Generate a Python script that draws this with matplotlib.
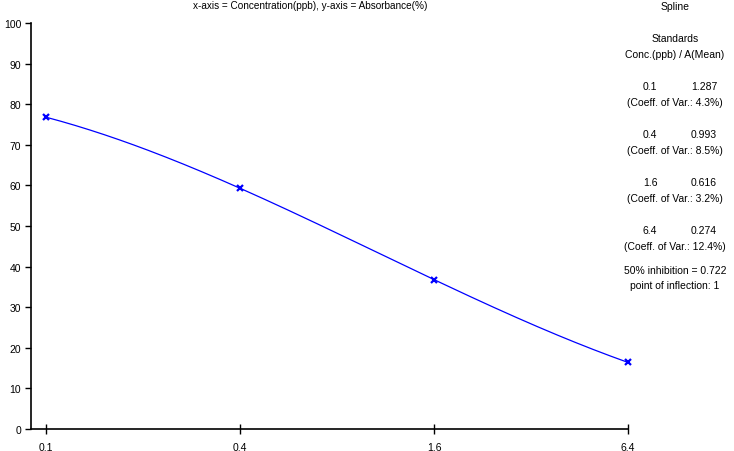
import numpy as np
import matplotlib.pyplot as plt

plt.rcParams['font.family'] = ['Liberation Sans', 'DejaVu Sans']

# standards: concentration (ppb), mean absorbance, relative absorbance (%)
conc = [0.1, 0.4, 1.6, 6.4]
absorb_mean = [1.287, 0.993, 0.616, 0.274]
absorb_pct = [76.8, 59.3, 36.8, 16.4]
coeff_var = ['4.3%', '8.5%', '3.2%', '12.4%']
y_ticks = [0, 10, 20, 30, 40, 50, 60, 70, 80, 90, 100]

fig = plt.figure(figsize=(7.34, 4.52), dpi=100)
ax = fig.add_axes([31/734, 22/452, 597/734, 406/452])

# cubic through the standards in log(conc)
lx = np.log(conc)
coef = np.polyfit(lx, absorb_pct, 3)
xs = np.linspace(lx[0], lx[-1], 200)
ax.plot(np.exp(xs), np.polyval(coef, xs), color='#0000ff', lw=0.9, clip_on=False)
ax.plot(conc, absorb_pct, 'x', color='#0000ff', ms=4, mew=1.6, clip_on=False)

ax.set_xscale('log')
ax.set_xlim(0.1 * 4 ** (-15/194), 6.4)
ax.set_ylim(0, 100)
ax.set_xticks(conc)
ax.set_xticklabels([str(c) for c in conc])
ax.minorticks_off()
ax.set_yticks(y_ticks)
for s in ['top', 'right']:
    ax.spines[s].set_visible(False)
for s in ['left', 'bottom']:
    ax.spines[s].set_linewidth(1.2)
ax.tick_params(axis='y', direction='out', length=4, width=1, labelsize=7.5, pad=3)
ax.tick_params(axis='x', direction='inout', length=7, width=1, labelsize=7.5, pad=6)

fig.text(310/734, 1 - 6/452, 'x-axis = Concentration(ppb), y-axis = Absorbance(%)',
         ha='center', va='center', fontsize=7.2)

# right-hand info panel
cx = 675/734
def put(y, s, x=cx):
    fig.text(x, 1 - y/452, s, ha='center', va='center', fontsize=7.5)

put(7, 'Spline')
put(39, 'Standards')
put(55, 'Conc.(ppb) / A(Mean)')
y0 = 87
for c, a, cv in zip(conc, absorb_mean, coeff_var):
    put(y0, str(c), x=650/734)
    put(y0, f'{a:.3f}', x=704/734)
    put(y0 + 16, f'(Coeff. of Var.: {cv})')
    y0 += 48
put(271, '50% inhibition = 0.722')
put(286, 'point of inflection: 1')

fig.savefig('out.png', dpi=100)
